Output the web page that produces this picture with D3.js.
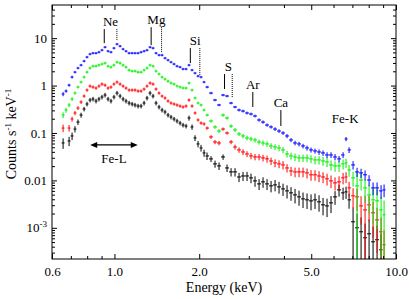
<!DOCTYPE html>
<html>
<head>
<meta charset="utf-8">
<script src="https://cdn.jsdelivr.net/npm/d3@7/dist/d3.min.js"></script>
<style>
  html, body { margin: 0; padding: 0; background: #ffffff; }
  svg { display: block; }
  text { font-family: "Liberation Serif", "DejaVu Serif", serif; fill: #000; }
</style>
</head>
<body>
<div id="chart"></div>
<script>
// ---- data ----

// bin centres (keV)
const energies = [
  0.657, 0.673, 0.690, 0.707, 0.724, 0.742, 0.761, 0.780, 0.799, 0.819,
  0.839, 0.860, 0.881, 0.903, 0.926, 0.949, 0.972, 0.996, 1.021, 1.047,
  1.073, 1.099, 1.127, 1.155, 1.183, 1.213, 1.243, 1.274, 1.305, 1.338,
  1.371, 1.405, 1.440, 1.476, 1.512, 1.550, 1.588, 1.628, 1.668, 1.710,
  1.752, 1.796, 1.840, 1.886, 1.933, 1.981, 2.030, 2.081, 2.132,
  2.203, 2.276, 2.352, 2.431, 2.511, 2.595, 2.681, 2.770, 2.862, 2.957,
  3.055, 3.157, 3.263, 3.371, 3.483, 3.599, 3.719, 3.842, 3.970, 4.102,
  4.238, 4.379, 4.525, 4.675, 4.831, 4.991, 5.157, 5.329, 5.506, 5.689,
  5.878, 6.074, 6.276, 6.486, 6.647, 6.813, 7.039, 7.273, 7.515, 7.765,
  8.023, 8.290, 8.566, 8.851, 9.071
];

// counts s-1 keV-1
const blueRate = [
  0.662, 0.766, 1.02, 1.51, 1.92, 2.34, 2.70, 3.28, 3.98, 4.61,
  4.83, 4.83, 5.07, 5.59, 6.46, 5.32, 5.07, 6.16, 7.48, 6.78,
  5.87, 5.32, 4.83, 4.83, 4.83, 4.83, 5.07, 5.32, 5.59, 6.46,
  6.16, 4.83, 4.39, 4.39, 3.79, 3.44, 3.12, 2.84, 2.57, 2.45,
  2.23, 2.23, 2.70, 2.12, 1.83, 1.585, 1.51, 1.185, 0.930,
  0.695, 0.495, 0.389, 0.631, 0.601, 0.428, 0.353, 0.305, 0.290, 0.264,
  0.251, 0.228, 0.188, 0.170, 0.147, 0.134, 0.121, 0.110, 0.100, 0.0865,
  0.0712, 0.0616, 0.0587, 0.0532, 0.0483, 0.0439, 0.0418, 0.0398, 0.0379, 0.0344,
  0.0344, 0.0312, 0.0284, 0.0344, 0.0747, 0.0439, 0.0212, 0.0151, 0.0144, 0.0131,
  0.0102, 0.00695, 0.00695, 0.00601, 0.00631
];
const greenRate = [
  0.239, 0.305, 0.389, 0.520, 0.695, 0.930, 1.185, 1.51, 1.92, 2.34,
  2.57, 2.57, 2.70, 2.84, 2.98, 2.57, 2.45, 2.70, 3.12, 2.98,
  2.70, 2.45, 2.12, 2.02, 2.02, 1.92, 1.92, 2.12, 2.34, 2.70,
  2.57, 2.02, 1.75, 1.51, 1.37, 1.24, 1.13, 1.075, 0.976, 0.930,
  0.886, 0.886, 1.13, 0.804, 0.546, 0.428, 0.389, 0.305, 0.239,
  0.179, 0.134, 0.110, 0.239, 0.207, 0.140, 0.116, 0.0953, 0.0865, 0.0785,
  0.0747, 0.0712, 0.0646, 0.0616, 0.0587, 0.0532, 0.0507, 0.0483, 0.0439, 0.0361,
  0.0328, 0.0312, 0.0298, 0.0298, 0.0298, 0.0284, 0.0270, 0.0270, 0.0257, 0.0245,
  0.0212, 0.0202, 0.0202, 0.0223, 0.0234, 0.0166, 0.0113, 0.00766, 0.0102, 0.00695,
  0.00495, 0.00389, 0.00370, 0.00239, 0.00188
];
const redRate = [
  0.127, null, 0.127, 0.197, 0.264, 0.336, 0.449, 0.601, 0.804, 0.976,
  0.930, 0.886, 0.976, 1.075, 1.02, 0.886, 0.930, 1.075, 1.185, 1.075,
  0.976, 0.886, 0.804, 0.804, 0.804, 0.766, 0.766, 0.844, 0.976, 1.13,
  1.075, 0.844, 0.695, 0.601, 0.546, 0.472, 0.428, 0.408, 0.389, 0.370,
  0.353, 0.370, 0.495, 0.370, 0.264, 0.188, 0.162, 0.155, 0.127,
  0.0824, 0.0646, 0.0616, 0.121, 0.100, 0.0646, 0.0507, 0.0439, 0.0398, 0.0361,
  0.0328, 0.0312, 0.0312, 0.0298, 0.0284, 0.0257, 0.0234, 0.0223, 0.0212, 0.0183,
  0.0158, 0.0151, 0.0151, 0.0151, 0.0144, 0.0131, 0.0131, 0.0124, 0.0118, 0.0108,
  0.00976, 0.00886, 0.00930, 0.0113, 0.0118, 0.00695, 0.00472, 0.00449, 0.00290, 0.00239,
  0.00305, 0.00207, 0.00147, 0.000824, 0.000439
];
const blackRate = [
  0.0616, null, 0.0678, 0.0865, 0.121, 0.170, 0.239, 0.320, 0.408, 0.495,
  0.520, 0.472, 0.520, 0.573, 0.631, 0.520, 0.472, 0.573, 0.695, 0.601,
  0.520, 0.472, 0.428, 0.408, 0.389, 0.370, 0.370, 0.428, 0.546, 0.695,
  0.601, 0.428, 0.353, 0.305, 0.277, 0.239, 0.217, 0.197, 0.179, 0.162,
  0.147, 0.140, 0.207, 0.134, 0.0785, 0.0587, 0.0483, 0.0379, 0.0328,
  0.0284, 0.0223, 0.0202, 0.0312, 0.0183, 0.0151, 0.0151, 0.0118, 0.0124, 0.0124,
  0.0113, 0.00976, 0.00844, 0.00930, 0.00844, 0.00766, 0.00804, 0.00730, 0.00662, 0.00601,
  0.00546, 0.00495, 0.00449, 0.00408, 0.00389, 0.00370, 0.00389, 0.00353, 0.00305, 0.00290,
  0.00336, 0.00449, 0.00631, 0.00546, 0.00573, 0.00389, 0.00134, 0.00100, 0.000824, 0.000616,
  0.000747, 0.000507, 0.000559, 0.000344, null
];

// 1-sigma errors, percent of the rate
const blueErr = [
  10, 8, 7, 7, 6, 6, 6, 6, 6, 6, 6, 6, 6, 6, 6, 6, 6, 6, 6, 6,
  6, 6, 6, 6, 6, 6, 6, 6, 6, 6, 6, 6, 6, 6, 6, 6, 6, 6, 6, 6,
  6, 6, 6, 6, 6, 6, 6, 6, 6,
  6, 6, 6, 6, 6, 6, 6, 7, 7, 7, 7, 7, 8, 8, 8, 8, 9, 9, 9, 10,
  10, 11, 11, 11, 12, 12, 12, 13, 13, 14, 14, 15, 15, 14,
  10, 14, 20, 22, 22, 24, 26, 30, 30, 32, 30
];
const greenErr = [
  14, 12, 10, 9, 8, 7, 7, 7, 7, 7, 7, 7, 7, 7, 7, 7, 7, 7, 7, 7,
  7, 7, 7, 7, 7, 7, 7, 7, 7, 7, 7, 7, 7, 7, 7, 7, 7, 7, 7, 7,
  7, 7, 7, 7, 7, 7, 7, 7, 7,
  8, 9, 10, 8, 8, 9, 10, 10, 11, 11, 11, 12, 12, 13, 13, 14, 14, 15, 15, 16,
  17, 18, 18, 18, 19, 19, 20, 20, 21, 22, 24, 25, 25, 24,
  22, 28, 35, 100, 40, 50, 60, 70, 75, 90, 100
];
const redErr = [
  18, 18, 16, 12, 10, 9, 9, 8, 8, 8, 8, 8, 8, 8, 8, 8, 8, 8, 8, 8,
  8, 8, 8, 8, 8, 8, 8, 8, 8, 8, 8, 8, 8, 8, 8, 8, 8, 8, 8, 8,
  8, 8, 8, 8, 8, 8, 8, 8, 8,
  9, 10, 11, 8, 8, 10, 12, 13, 14, 14, 15, 15, 15, 16, 17, 18, 19, 19, 20, 20,
  22, 23, 23, 23, 24, 25, 25, 26, 26, 28, 30, 31, 31, 27,
  26, 34, 45, 50, 60, 100, 55, 70, 80, 100, 100
];
const blackErr = [
  25, 0, 22, 18, 15, 13, 12, 11, 11, 11, 11, 11, 11, 11, 11, 11, 11, 11, 11, 11,
  11, 11, 11, 11, 11, 11, 11, 11, 11, 11, 11, 11, 11, 11, 11, 11, 11, 11, 11, 11,
  11, 11, 12, 13, 14, 15, 16, 17, 18,
  14, 17, 18, 13, 18, 20, 20, 22, 22, 22, 23, 25, 26, 25, 26, 27, 27, 28, 29, 31,
  32, 34, 35, 36, 36, 37, 36, 38, 40, 42, 39, 32, 28, 29,
  29, 35, 100, 100, 100, 100, 100, 110, 100, 120, 0
];

// axis ticks
const xTickValues = [0.6, 1.0, 2.0, 5.0, 10.0];
const xTickLabels = ['0.6', '1.0', '2.0', '5.0', '10.0'];
const xMinorValues = [0.7, 0.8, 0.9, 3, 4, 6, 7, 8, 9];
const yTickValues = [1e-3, 0.01, 0.1, 1, 10];
const yTickLabels = ['10^-3', '0.01', '0.1', '1', '10'];

// emission line markers
const lineNames = ['Ne', 'Mg', 'Si', 'S', 'Ar', 'Ca'];
const lineEnergy = [0.92, 1.35, 1.86, 2.46, 3.10, 3.90];
const lineEnergy2 = [1.02, 1.47, 2.01, 2.62, null, null];
const lineTop = [15.5, 17.0, 6.16, 1.75, 0.73, 0.305];
const lineBottom = [7.85, 7.12, 2.98, 0.844, 0.353, 0.140];
const lineBottom2 = [9.08, 5.07, 1.66, 0.573, null, null];

// Fe-K label and Fe-L band
const feKEnergy = 6.6, feKValue = 0.162;
const feLRange = [0.82, 1.21], feLValue = 0.0559;
const feLLabelEnergy = 0.996, feLLabelValue = 0.0234;

const serif = '"Liberation Serif", "DejaVu Serif", serif';

// ---- drawing ----
function drawSpectrum() {
  const width = 409;
  const height = 299;
  const margin = { top: 5, right: 13, bottom: 40, left: 52 };

  const svg = d3.select('#chart')
    .append('svg')
    .attr('width', width)
    .attr('height', height)
    .style('font-family', serif);

  const x = d3.scaleLog().domain([0.6, 10]).range([margin.left, width - margin.right]);
  const y = d3.scaleLog().domain([2.2e-4, 50]).range([height - margin.bottom, margin.top]);

  const [x0, x1] = x.range();
  const [y0, y1] = y.range();

  svg.append('defs').append('clipPath')
    .attr('id', 'plot-clip')
    .append('rect')
    .attr('x', x0).attr('y', y1)
    .attr('width', x1 - x0).attr('height', y0 - y1);

  // spectra as error-bar crosses
  const series = [
    { color: '#000000', rate: blackRate, err: blackErr },
    { color: '#ff0000', rate: redRate, err: redErr },
    { color: '#00ee00', rate: greenRate, err: greenErr },
    { color: '#0000ff', rate: blueRate, err: blueErr }
  ];

  const n = energies.length;
  const edgeLo = energies.map((e, i) => i > 0 ? Math.sqrt(energies[i - 1] * e) : e * e / Math.sqrt(e * energies[1]));
  const edgeHi = energies.map((e, i) => i < n - 1 ? Math.sqrt(energies[i + 1] * e) : e * e / Math.sqrt(e * energies[n - 2]));

  const plot = svg.append('g').attr('clip-path', 'url(#plot-clip)');

  series.forEach(s => {
    const pts = energies.map((e, i) => ({ i, e, v: s.rate[i], err: s.err[i] / 100 }))
      .filter(d => d.v != null);

    plot.append('g')
      .selectAll('path')
      .data(pts)
      .enter()
      .append('path')
      .attr('d', d => {
        const cy = y(d.v);
        const top = y(d.v * (1 + d.err));
        const low = d.v * (1 - d.err);
        const bot = low > 1e-6 ? y(low) : y0 + 5;
        return `M${x(edgeLo[d.i])},${cy}H${x(edgeHi[d.i])}M${x(d.e)},${top}V${bot}`;
      })
      .attr('fill', 'none')
      .attr('stroke', s.color)
      .attr('stroke-width', 1);
  });

  // frame
  svg.append('rect')
    .attr('x', x0).attr('y', y1)
    .attr('width', x1 - x0).attr('height', y0 - y1)
    .attr('fill', 'none')
    .attr('stroke', '#000')
    .attr('stroke-width', 1);

  // y minor ticks
  const yMinor = [];
  for (let p = -4; p <= 1; p++) {
    for (let m = 2; m <= 9; m++) {
      const v = m * Math.pow(10, p);
      if (v > 2.2e-4 && v < 50) yMinor.push(v);
    }
  }

  const styleAxis = g => {
    g.attr('font-family', null).attr('font-size', null);
    g.select('.domain').remove();
    g.selectAll('line').attr('stroke', '#000');
    g.selectAll('text')
      .style('font-family', serif)
      .style('font-size', '13px')
      .attr('fill', '#000');
  };

  // bottom
  svg.append('g')
    .attr('transform', `translate(0,${y0})`)
    .call(d3.axisBottom(x).tickValues(xTickValues).tickSize(-5).tickPadding(8)
      .tickFormat((d, i) => xTickLabels[i]))
    .call(styleAxis);
  svg.append('g')
    .attr('transform', `translate(0,${y0})`)
    .call(d3.axisBottom(x).tickValues(xMinorValues).tickSize(-3).tickFormat(''))
    .call(styleAxis);
  // top
  svg.append('g')
    .attr('transform', `translate(0,${y1})`)
    .call(d3.axisTop(x).tickValues(xTickValues).tickSize(-5).tickFormat(''))
    .call(styleAxis);
  svg.append('g')
    .attr('transform', `translate(0,${y1})`)
    .call(d3.axisTop(x).tickValues(xMinorValues).tickSize(-3).tickFormat(''))
    .call(styleAxis);
  // left
  const leftAxis = svg.append('g')
    .attr('transform', `translate(${x0},0)`)
    .call(d3.axisLeft(y).tickValues(yTickValues).tickSize(-5).tickPadding(5)
      .tickFormat((d, i) => yTickLabels[i]))
    .call(styleAxis);
  svg.append('g')
    .attr('transform', `translate(${x0},0)`)
    .call(d3.axisLeft(y).tickValues(yMinor).tickSize(-3).tickFormat(''))
    .call(styleAxis);
  // right
  svg.append('g')
    .attr('transform', `translate(${x1},0)`)
    .call(d3.axisRight(y).tickValues(yTickValues).tickSize(-5).tickFormat(''))
    .call(styleAxis);
  svg.append('g')
    .attr('transform', `translate(${x1},0)`)
    .call(d3.axisRight(y).tickValues(yMinor).tickSize(-3).tickFormat(''))
    .call(styleAxis);

  // power-of-ten label with superscript
  leftAxis.selectAll('.tick text').each(function(d, i) {
    const label = yTickLabels[i];
    if (label.includes('^')) {
      const [base, exp] = label.split('^');
      const t = d3.select(this).text(null);
      t.append('tspan').text(base);
      t.append('tspan').attr('dy', '-5').style('font-size', '9px').text(exp);
    }
  });

  // axis titles
  svg.append('text')
    .attr('x', (x0 + x1) / 2)
    .attr('y', 292)
    .attr('text-anchor', 'middle')
    .style('font-size', '14px')
    .text('Energy (keV)');

  const yTitle = svg.append('text')
    .attr('transform', `translate(16,${(y0 + y1) / 2 + 2}) rotate(-90)`)
    .attr('text-anchor', 'middle')
    .style('font-size', '14px');
  yTitle.append('tspan').text('Counts s');
  yTitle.append('tspan').attr('dy', -5).style('font-size', '9px').text('-1');
  yTitle.append('tspan').attr('dy', 5).text(' keV');
  yTitle.append('tspan').attr('dy', -5).style('font-size', '9px').text('-1');

  // emission line markers
  lineNames.forEach((name, i) => {
    const xs = x(lineEnergy[i]);
    svg.append('line')
      .attr('x1', xs).attr('x2', xs)
      .attr('y1', y(lineTop[i])).attr('y2', y(lineBottom[i]))
      .attr('stroke', '#000').attr('stroke-width', 1);

    let cx = xs;
    if (lineEnergy2[i] != null) {
      const xd = x(lineEnergy2[i]);
      svg.append('line')
        .attr('x1', xd).attr('x2', xd)
        .attr('y1', y(lineTop[i])).attr('y2', y(lineBottom2[i]))
        .attr('stroke', '#000').attr('stroke-width', 1)
        .attr('stroke-dasharray', '1,1');
      cx = (xs + xd) / 2;
    }

    svg.append('text')
      .attr('x', cx)
      .attr('y', y(lineTop[i]) - 3)
      .attr('text-anchor', 'middle')
      .style('font-size', '13px')
      .text(name);
  });

  svg.append('text')
    .attr('x', x(feKEnergy))
    .attr('y', y(feKValue))
    .attr('text-anchor', 'middle')
    .style('font-size', '13px')
    .text('Fe-K');

  // Fe-L double arrow
  const ay = y(feLValue);
  const ax1 = x(feLRange[0]);
  const ax2 = x(feLRange[1]);
  svg.append('line')
    .attr('x1', ax1 + 4).attr('x2', ax2 - 4)
    .attr('y1', ay).attr('y2', ay)
    .attr('stroke', '#000').attr('stroke-width', 1.2);
  svg.append('path')
    .attr('d', `M${ax1},${ay}l7,-3v6z M${ax2},${ay}l-7,-3v6z`)
    .attr('fill', '#000');

  svg.append('text')
    .attr('x', x(feLLabelEnergy))
    .attr('y', y(feLLabelValue))
    .attr('text-anchor', 'middle')
    .style('font-size', '13px')
    .text('Fe-L');
}

drawSpectrum();
</script>
</body>
</html>
